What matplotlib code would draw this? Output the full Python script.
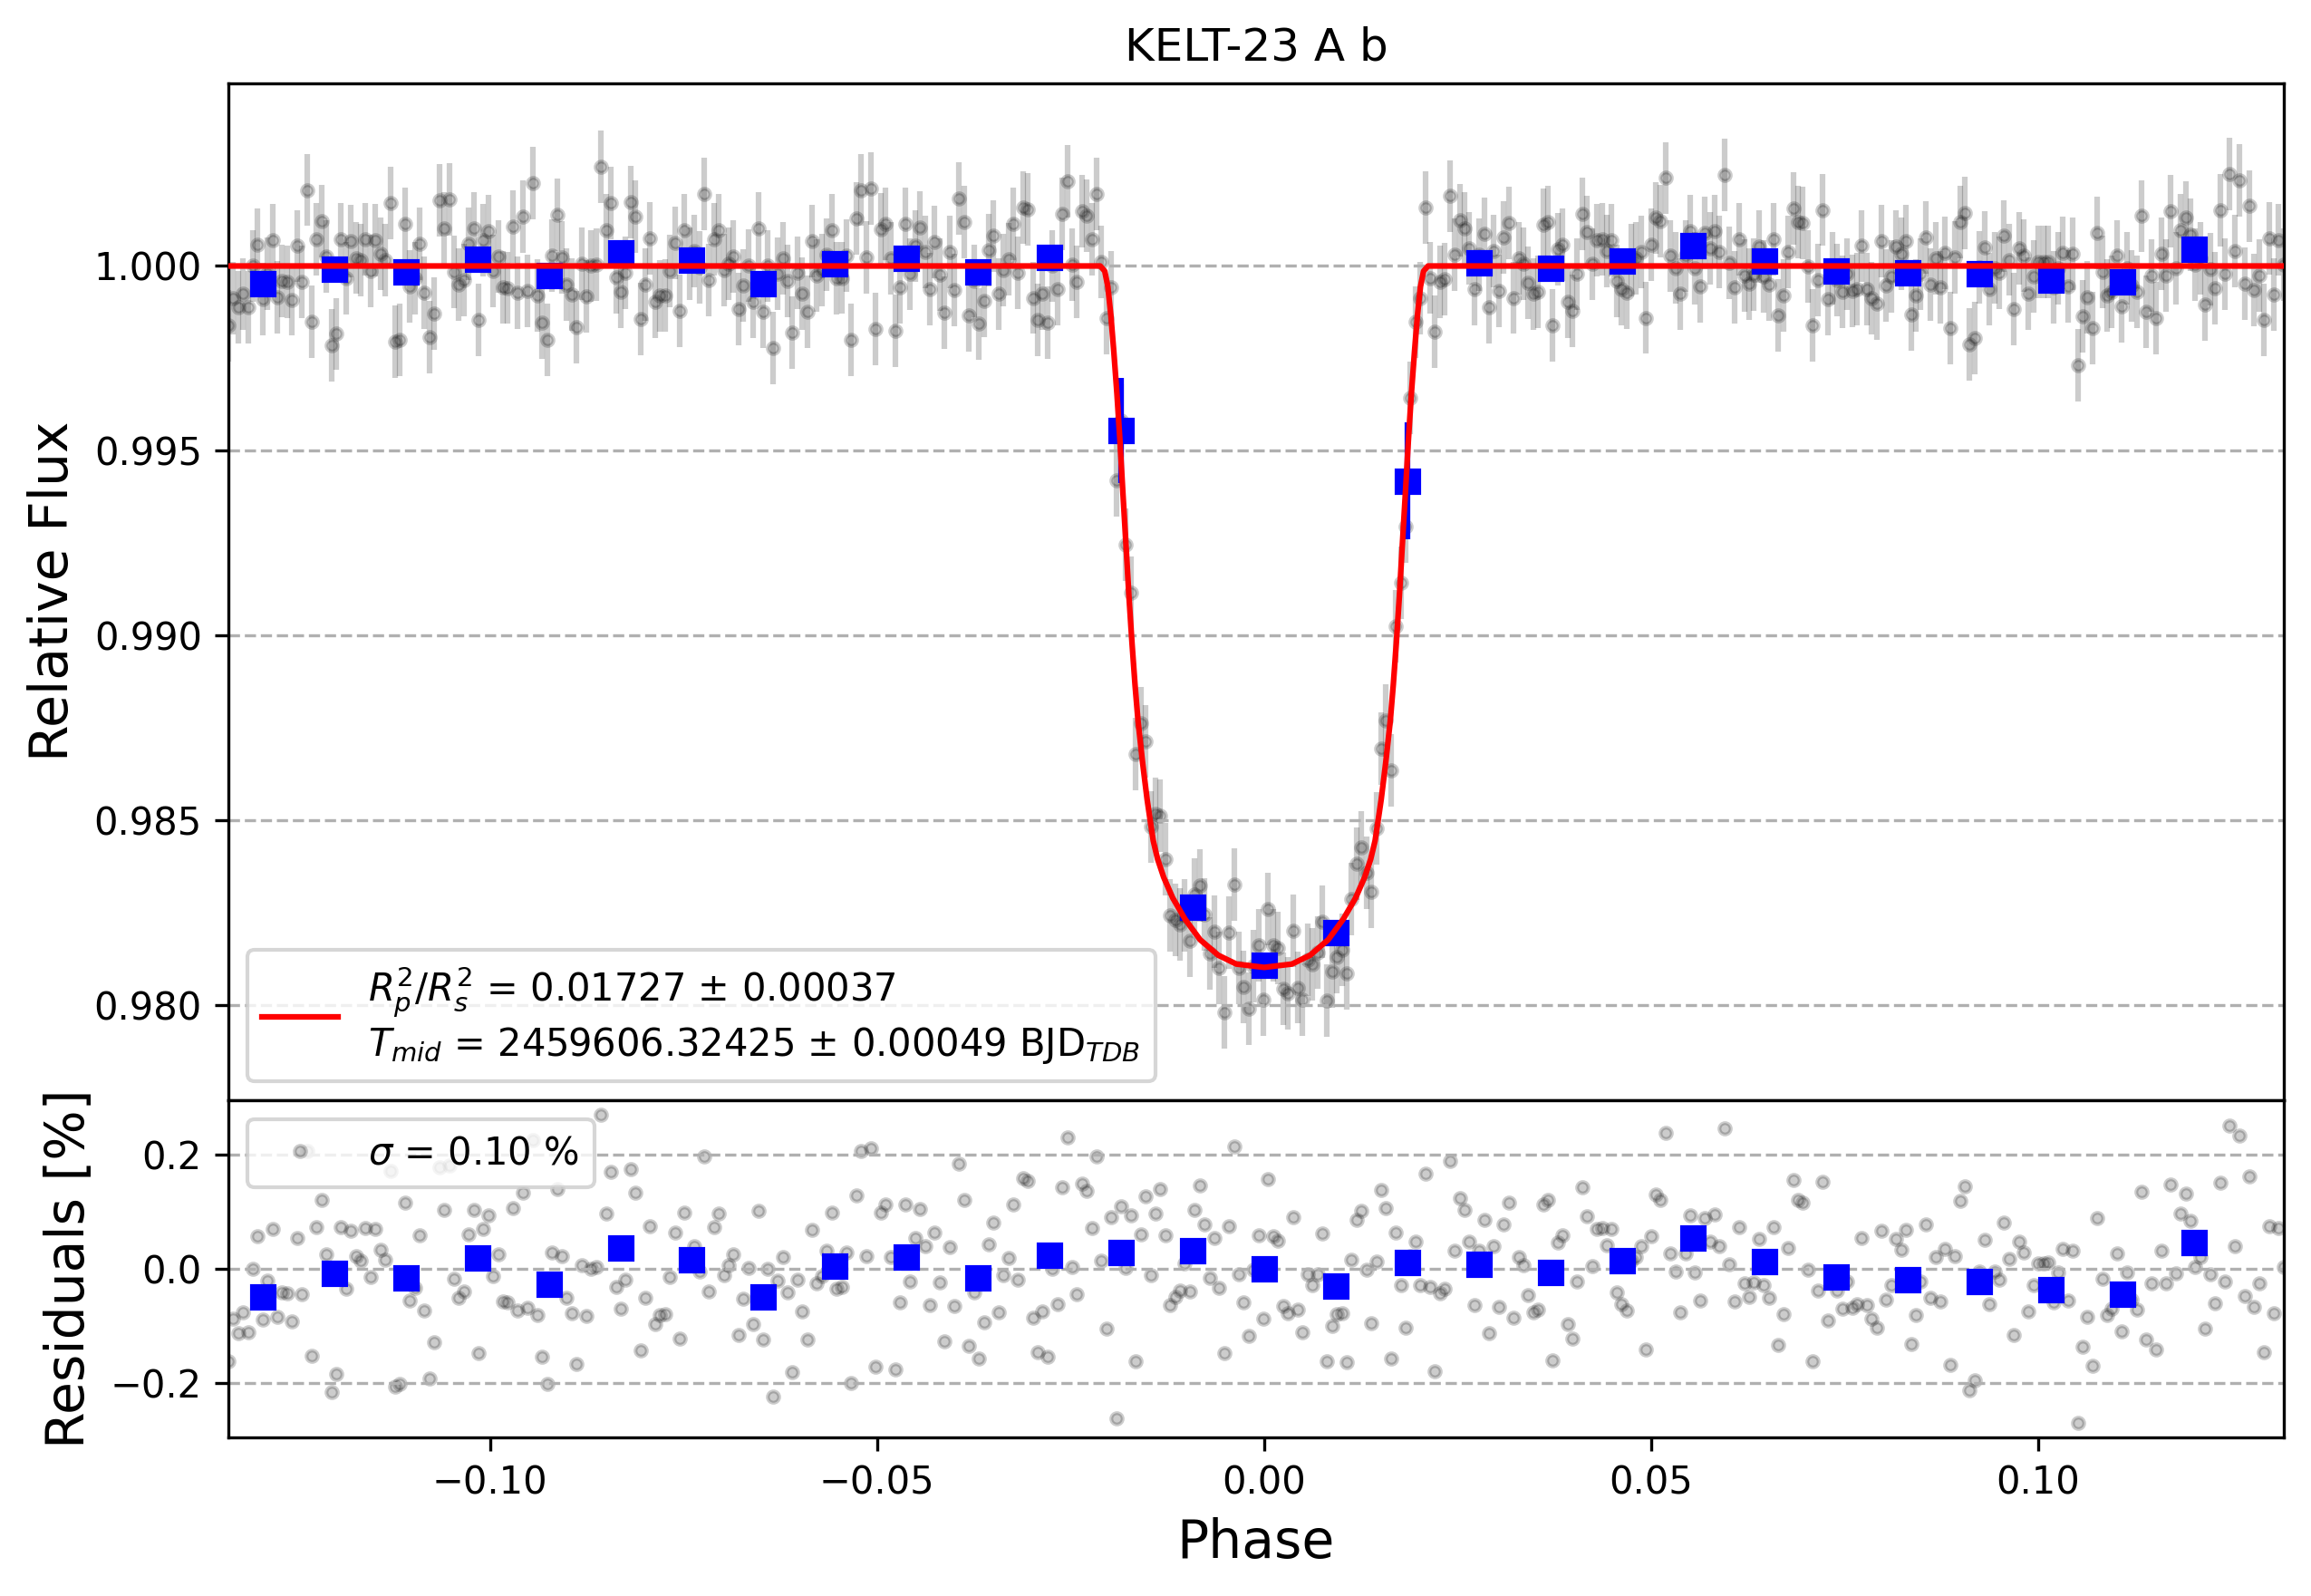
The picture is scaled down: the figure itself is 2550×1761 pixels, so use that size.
import matplotlib.pyplot as plt
import numpy as np

# residuals [%], left to right
resid_a = [-0.162, -0.087, -0.112, -0.076, -0.111, 0.000, 0.057, -0.089, -0.021, 0.069,
           -0.084, -0.041, -0.042, -0.091, 0.054, -0.044, 0.206, -0.152, 0.073, 0.121,
           0.025, -0.215, -0.184, 0.073, -0.034, 0.067, 0.022, 0.015, 0.072, -0.014,
           0.069, 0.033, 0.016, 0.171, -0.205, -0.201, 0.115, -0.056, -0.033, 0.059,
           -0.073, -0.192, -0.128, 0.178, 0.103, 0.181, -0.017, -0.050, -0.039, 0.061,
           0.103, -0.147, 0.069, 0.094, -0.013, 0.025, -0.057, -0.059, 0.106, -0.072,
           0.133, -0.068, 0.225, -0.080, -0.154, -0.201, 0.029, 0.139, 0.023, -0.050,
           -0.077, -0.166, 0.006, -0.082, 0.000, 0.003, 0.269, 0.097, 0.170, -0.031,
           -0.070, -0.019, 0.174, 0.133, -0.143, -0.050, 0.075, -0.096, -0.081, -0.079,
           -0.014, 0.063, -0.121, 0.098, 0.006, 0.040, -0.004, 0.196, -0.039, 0.073,
           0.097, -0.011, 0.006, 0.025, -0.116, -0.052, 0.002, -0.096, 0.101, -0.124,
           0.000, -0.223]
resid_b = [-0.021, 0.020, -0.041, -0.180, -0.019, -0.074, -0.124, 0.068, -0.025, -0.012,
           0.031, 0.098, -0.034, -0.032, 0.028, -0.199, 0.129, 0.206, 0.023, 0.210,
           -0.170, 0.099, 0.113, 0.020, -0.176, -0.058, 0.113, -0.022, 0.054, 0.105,
           0.039, -0.063, 0.064, -0.023, -0.126, 0.038, -0.065, 0.183, 0.120, -0.134,
           -0.041, -0.157, -0.094, 0.043, 0.081, -0.076, -0.011, 0.019, 0.113, -0.019,
           0.158, 0.153, -0.086, -0.146, -0.074, -0.154, 0.000, -0.062, 0.142, 0.230,
           0.003, -0.044, 0.149, 0.137, 0.072, 0.196, 0.014, -0.105, 0.090, -0.261,
           0.110, 0.002, 0.093, -0.161, 0.061, 0.126, -0.011, 0.097, 0.140, 0.059,
           -0.063, -0.049, -0.038, 0.010, -0.040, 0.103, 0.146, 0.078, -0.016, 0.054,
           -0.033, -0.147, 0.075, 0.213, -0.009, -0.059, -0.117, -0.001, 0.059, -0.087,
           0.157, 0.057, 0.049, -0.065, -0.078, 0.090]
resid_c = [-0.071, -0.111, -0.010, -0.029, -0.009, 0.062, -0.162, -0.100, -0.079, -0.078,
           -0.163, 0.016, 0.086, 0.101, -0.002, -0.095, 0.013, 0.138, 0.106, -0.156,
           0.063, -0.028, -0.103, 0.023, 0.048, -0.028, 0.167, -0.032, -0.178, -0.042,
           -0.035, 0.189, 0.031, 0.124, 0.103, 0.047, -0.063, 0.031, 0.086, -0.112,
           0.040, -0.067, 0.077, 0.116, -0.086, 0.021, 0.007, -0.045, -0.076, -0.071,
           0.112, 0.120, -0.160, 0.046, 0.058, -0.097, -0.121, -0.022, 0.142, 0.092,
           0.005, 0.070, 0.072, 0.041, 0.070, -0.041, -0.062, -0.072, 0.015, 0.020,
           0.039, -0.140, 0.057, 0.130, 0.121, 0.238, 0.027, -0.005, -0.076, 0.027,
           0.094, -0.006, -0.055, 0.089, 0.047, 0.095, 0.039, 0.246, 0.008, -0.057,
           0.073, -0.025, -0.049, -0.024, 0.052, -0.029, -0.050, 0.073, -0.133, -0.079,
           0.037, 0.156, 0.120, 0.116, -0.002, -0.161, -0.038, 0.152]
resid_d = [-0.090, -0.007, -0.038, -0.069, -0.022, -0.068, -0.062, 0.054, -0.063, -0.087,
           -0.103, 0.067, -0.053, -0.028, 0.053, 0.033, 0.068, -0.131, -0.080, -0.022,
           0.078, -0.050, 0.021, -0.057, 0.035, -0.168, 0.023, 0.119, 0.144, -0.212,
           -0.195, -0.004, 0.050, -0.062, -0.005, -0.019, 0.081, 0.017, -0.116, 0.047,
           0.029, -0.074, -0.028, 0.010, 0.010, 0.011, -0.058, -0.006, 0.035, -0.056,
           0.032, -0.269, -0.136, -0.084, -0.169, 0.089, -0.017, -0.080, -0.070, 0.027,
           -0.109, -0.006, -0.054, -0.071, 0.135, -0.124, -0.025, -0.141, 0.032, -0.025,
           0.148, -0.007, 0.096, 0.132, 0.084, 0.004, 0.020, -0.105, -0.009, -0.060,
           0.150, -0.022, 0.250, 0.040, 0.232, -0.047, 0.162, -0.066, -0.025, -0.146,
           0.075, -0.078, 0.071, 0.004]

# best fit transit model
model_phase = [-0.1338, -0.02117, -0.02059, -0.02019, -0.01980, -0.01942, -0.01902, -0.01863,
               -0.01825, -0.01785, -0.01746, -0.01707, -0.01668, -0.01629, -0.01570, -0.01512,
               -0.01473, -0.01433, -0.01376, -0.01298, -0.01181, -0.01023, -0.00828, -0.00594,
               -0.00359, 0.0,
               0.00359, 0.00594, 0.00828, 0.01023, 0.01181, 0.01298, 0.01376, 0.01433,
               0.01473, 0.01512, 0.01570, 0.01629, 0.01668, 0.01707, 0.01746, 0.01785,
               0.01825, 0.01863, 0.01902, 0.01942, 0.01980, 0.02019, 0.02059, 0.02117, 0.1317]
model_flux = [1.0, 1.0, 0.99986, 0.99944, 0.99866, 0.99768, 0.99655, 0.99528,
              0.99387, 0.99246, 0.99104, 0.98979, 0.98866, 0.98768, 0.98655, 0.98556,
              0.98500, 0.98444, 0.98394, 0.98345, 0.98289, 0.98232, 0.98176, 0.98134,
              0.98110, 0.98101,
              0.98110, 0.98134, 0.98176, 0.98232, 0.98289, 0.98345, 0.98394, 0.98444,
              0.98500, 0.98556, 0.98655, 0.98768, 0.98866, 0.98979, 0.99104, 0.99246,
              0.99387, 0.99528, 0.99655, 0.99768, 0.99866, 0.99944, 0.99986, 1.0, 1.0]

# binned points
bin_phase = [-0.12936, -0.12012, -0.11088, -0.10164, -0.09240, -0.08316, -0.07392,
             -0.06468, -0.05544, -0.04620, -0.03696, -0.02772, -0.01848, -0.00924,
             0.0, 0.00924, 0.01848, 0.02772, 0.03696, 0.04620, 0.05544,
             0.06468, 0.07392, 0.08316, 0.09240, 0.10164, 0.11088, 0.12012]
bin_flux = [0.99951, 0.99992, 0.99984, 1.00019, 0.99973, 1.00036, 1.00016,
            0.99951, 1.00005, 1.00021, 0.99984, 1.00024, 0.99554, 0.98263,
            0.98106, 0.98196, 0.99418, 1.00008, 0.99994, 1.00014, 1.00054,
            1.00013, 0.99986, 0.99981, 0.99978, 0.99963, 0.99956, 1.00046]
bin_err = [0.00025, 0.00025, 0.00025, 0.00025, 0.00025, 0.00025, 0.00025,
           0.00025, 0.00025, 0.00025, 0.00025, 0.00025, 0.00142, 0.0003,
           0.00025, 0.0003, 0.00158, 0.00025, 0.00025, 0.00025, 0.00025,
           0.00025, 0.00025, 0.00025, 0.00025, 0.00025, 0.00025, 0.00025]
bin_resid = [-0.049, -0.008, -0.016, 0.019, -0.027, 0.036, 0.016,
             -0.049, 0.005, 0.021, -0.016, 0.024, 0.029, 0.032,
             0.000, -0.030, 0.011, 0.008, -0.006, 0.014, 0.054,
             0.013, -0.014, -0.019, -0.022, -0.037, -0.044, 0.046]

flux_err = 0.00098

resid = np.array(resid_a + resid_b + resid_c + resid_d)
phase = np.linspace(-0.1338, 0.1317, len(resid))
flux = np.interp(phase, model_phase, model_flux) + resid / 100

fig = plt.figure(figsize=(8.5, 5.87))
ax = fig.add_axes([0.0988, 0.3108, 0.8894, 0.6371])
ax_res = fig.add_axes([0.0988, 0.0991, 0.8894, 0.2117], sharex=ax)

# light curve
ax.errorbar(phase, flux, yerr=flux_err, ls='none', marker='.', color='black', alpha=0.2, zorder=1)
ax.errorbar(bin_phase, bin_flux, yerr=bin_err, fmt='bs', zorder=2)
ax.plot(model_phase, model_flux, 'r-', zorder=3,
        label=r'$R^{2}_{p}/R^{2}_{s}$ = 0.01727 ± 0.00037' + '\n'
              + r'$T_{mid}$ = 2459606.32425 ± 0.00049 BJD$_{TDB}$')
ax.set_xlim(-0.1338, 0.1317)
ax.set_ylim(0.97742, 1.00495)
ax.set_ylabel('Relative Flux', fontsize=14)
ax.set_title('KELT-23 A b')
ax.grid(True, ls='--', axis='y')
ax.tick_params(axis='x', which='both', bottom=False, labelbottom=False)
ax.legend(loc='lower left')

# residuals
ax_res.plot(phase, resid, 'k.', alpha=0.2, zorder=1, label=r'$\sigma$ = 0.10 %')
ax_res.plot(bin_phase, bin_resid, 'bs', zorder=2)
ax_res.set_ylim(-0.295, 0.295)
ax_res.set_yticks([-0.2, 0.0, 0.2])
ax_res.set_xlabel('Phase', fontsize=14)
ax_res.set_ylabel('Residuals [%]', fontsize=14)
ax_res.grid(True, ls='--', axis='y')
ax_res.legend(loc='upper left')

fig.savefig('out.png', dpi=300)
